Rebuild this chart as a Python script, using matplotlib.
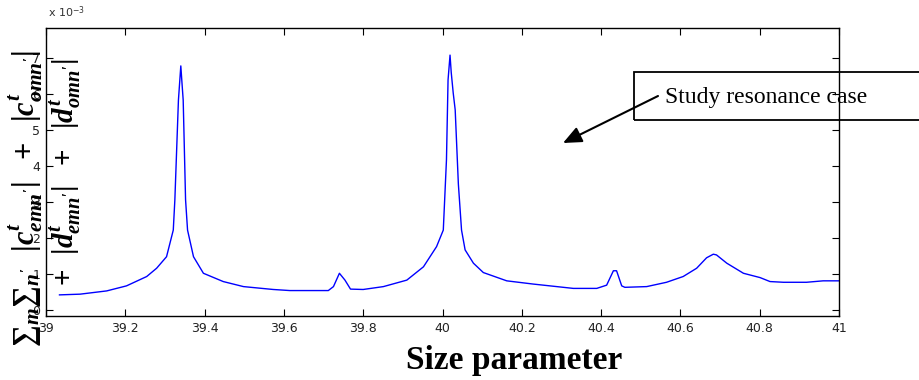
import matplotlib
matplotlib.use("Agg")
import matplotlib.pyplot as plt
from matplotlib.patches import Rectangle, FancyArrowPatch

plt.rcParams['mathtext.fontset'] = 'custom'
plt.rcParams['mathtext.rm'] = 'Liberation Serif:bold'
plt.rcParams['mathtext.it'] = 'Liberation Serif:italic:bold'
plt.rcParams['mathtext.bf'] = 'Liberation Serif:bold'

# size parameter
x = [39.034, 39.086, 39.153, 39.203, 39.254, 39.279, 39.304, 39.321, 39.325, 39.334,
     39.340, 39.343, 39.346, 39.352, 39.357, 39.372, 39.397, 39.447, 39.498, 39.573,
     39.615, 39.712, 39.725, 39.740, 39.754, 39.768, 39.800, 39.851, 39.910, 39.952,
     39.985, 40.002, 40.010, 40.014, 40.019, 40.022, 40.027, 40.032, 40.040, 40.048,
     40.057, 40.078, 40.103, 40.162, 40.229, 40.288, 40.330, 40.389, 40.414, 40.431,
     40.439, 40.452, 40.460, 40.515, 40.565, 40.607, 40.641, 40.666, 40.683, 40.691,
     40.717, 40.759, 40.801, 40.826, 40.860, 40.918, 40.960, 41.000]
# value (x 1e-3)
y = [0.42, 0.44, 0.53, 0.67, 0.93, 1.16, 1.48, 2.22, 3.06, 5.83,
     6.78, 6.30, 5.83, 3.06, 2.22, 1.48, 1.02, 0.79, 0.65, 0.57,
     0.54, 0.54, 0.65, 1.02, 0.83, 0.58, 0.57, 0.65, 0.83, 1.20,
     1.76, 2.22, 4.17, 6.39, 7.08, 6.60, 6.03, 5.56, 3.50, 2.22,
     1.67, 1.30, 1.04, 0.81, 0.72, 0.65, 0.60, 0.60, 0.69, 1.09,
     1.09, 0.67, 0.63, 0.65, 0.77, 0.93, 1.16, 1.45, 1.55, 1.53,
     1.30, 1.02, 0.90, 0.79, 0.77, 0.77, 0.81, 0.81]

xticks = [39, 39.2, 39.4, 39.6, 39.8, 40, 40.2, 40.4, 40.6, 40.8, 41]
xticklabels = ['39', '39.2', '39.4', '39.6', '39.8', '40', '40.2', '40.4', '40.6', '40.8', '41']
yticks = [0, 1, 2, 3, 4, 5, 6, 7]

W, H = 919, 380
fig = plt.figure(figsize=(W / 100, H / 100), dpi=100)
ax = fig.add_axes([46 / W, 1 - 316 / H, (839 - 46) / W, (316 - 28) / H])
ax.plot(x, y, color='#0000ff', lw=1.0)
ax.set_xlim(39, 41)
ax.set_ylim(-0.1667, 7.833)
ax.set_xticks(xticks)
ax.set_xticklabels(xticklabels)
ax.set_yticks(yticks)
ax.tick_params(direction='in', length=5, width=0.8, top=True, right=True,
               labelsize=9, labelcolor='#222222', pad=4)
for lab in ax.get_xticklabels() + ax.get_yticklabels():
    lab.set_family('DejaVu Sans')
for s in ax.spines.values():
    s.set_linewidth(1.0)

fig.text(48 / W, 1 - 12 / H, r'x 10$^{\mathdefault{-3}}$', fontsize=8, color='#333333',
         family='DejaVu Sans', va='center', ha='left')

fig.text(514 / W, 1 - 360 / H, 'Size parameter', fontsize=24, fontweight='bold',
         family='Liberation Serif', ha='center', va='center')

fig.text(26 / W, 1 - 198 / H,
         r"$∑_m∑_{n'}\ \ |c^t_{emn'}|\ \ +\ \ |c^t_{omn'}|$",
         rotation=90, fontsize=22, ha='center', va='center', zorder=10)
fig.text(65 / W, 1 - 172 / H,
         r"$+\ \ |d^t_{emn'}|\ \ +\ \ |d^t_{omn'}|$",
         rotation=90, fontsize=21, ha='center', va='center', zorder=10)

rect = Rectangle((634 / W, 1 - 120 / H), (925 - 634) / W, 48 / H, transform=fig.transFigure,
                 fill=False, edgecolor='black', lw=1.3, clip_on=False)
fig.add_artist(rect)
fig.text(665 / W, 1 - 97 / H, 'Study resonance case', fontsize=17,
         family='Liberation Serif', ha='left', va='center')
fig.add_artist(FancyArrowPatch(
    (658 / W, 1 - 96 / H), (563 / W, 1 - 143 / H), transform=fig.transFigure,
    arrowstyle='-|>,head_length=0.8,head_width=0.35', mutation_scale=14,
    color='black', lw=1.5, shrinkA=0, shrinkB=0))

fig.savefig('out.png', dpi=100)
